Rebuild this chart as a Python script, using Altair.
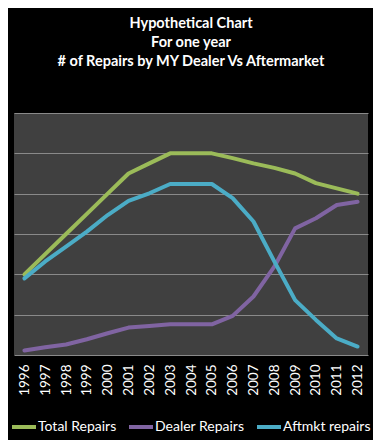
import altair as alt
import pandas as pd

years = [str(y) for y in range(1996, 2013)]
total = [20, 25, 30, 35, 40, 45, 47.5, 50, 50, 50, 48.8, 47.5, 46.4, 45, 42.6, 41.3, 40]
dealer = [1.1, 1.9, 2.6, 3.9, 5.4, 6.8, 7.2, 7.6, 7.6, 7.6, 9.7, 14.5, 21.9, 31.4, 33.9, 37.2, 38]
aftmkt = [19, 23.2, 26.9, 30.6, 34.7, 38.2, 40.1, 42.4, 42.4, 42.4, 38.9, 33.1, 23.2, 13.6, 8.7, 4.1, 2.1]
series = ["Total Repairs", "Dealer Repairs", "Aftmkt repairs"]
colors = ["#9BBB59", "#8064A2", "#4BACC6"]

rows = []
for name, vals in zip(series, [total, dealer, aftmkt]):
    for y, v in zip(years, vals):
        rows.append({"Year": y, "Series": name, "Value": v})
df = pd.DataFrame(rows)

font = "Lato"

chart = alt.Chart(df).mark_line(strokeWidth=4, strokeCap="round", strokeJoin="round").encode(
    x=alt.X("Year:N", sort=years, scale=alt.Scale(type="point", padding=0.5),
            axis=alt.Axis(title=None, labelAngle=-90, labelColor="white", labelFontSize=13.5,
                          labelFont=font, ticks=False, domain=False, grid=False,
                          labelPadding=9, labelBaseline="middle", labelAlign="right")),
    y=alt.Y("Value:Q", scale=alt.Scale(domain=[0, 60], nice=False),
            axis=alt.Axis(title=None, labels=False, ticks=False, domain=False,
                          values=[0, 10, 20, 30, 40, 50, 60],
                          gridColor="#8a8a8a", gridWidth=1)),
    color=alt.Color("Series:N", sort=series,
                    scale=alt.Scale(domain=series, range=colors),
                    legend=alt.Legend(title=None, orient="none", direction="horizontal",
                                      legendX=-4, legendY=300, padding=0,
                                      labelColor="white", labelFontSize=14, labelFont=font,
                                      symbolType="stroke", symbolStrokeWidth=4, symbolSize=576,
                                      columnPadding=4, labelOffset=0)),
).properties(
    width=354, height=242,
    background="black",
    padding={"left": 6, "top": 105, "right": 5, "bottom": 85},
    autosize=alt.AutoSizeParams(type="none"),
    title=alt.TitleParams(
        text=["Hypothetical Chart", "For one year", "# of Repairs by MY Dealer Vs Aftermarket"],
        color="white", fontSize=14.5, font=font, fontWeight="bold", lineHeight=19,
        anchor="middle", offset=44),
).configure_view(fill="#404040", stroke=None)

chart.save("out.html", embed_options={"renderer": "svg", "actions": False})
